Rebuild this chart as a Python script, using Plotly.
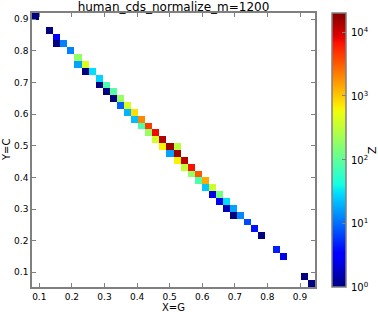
import numpy as np
import plotly.graph_objects as go

# ---- data (2D histogram, 40 x 40 bins) ----
n_bins = 40
x_min, x_max = 0.0776, 0.946
y_min, y_max = 0.0535, 0.920

# occupied cells: column index (G bin, left->right), row index (C bin, top->bottom), count
cell_col = [0, 2, 3, 3, 4, 5, 6, 6, 7, 7, 8, 9, 9, 10, 10, 11, 11, 12, 12, 13, 13,
            14, 14, 15, 15, 16, 16, 17, 17, 18, 18, 19, 20, 19, 20, 20, 21, 21, 22, 22,
            23, 23, 24, 24, 25, 25, 26, 26, 27, 27, 28, 28, 29, 30, 31, 32, 34, 35, 38, 39]
cell_row = [0, 2, 3, 4, 4, 5, 6, 7, 7, 8, 8, 9, 10, 10, 11, 11, 12, 12, 13, 13, 14,
            14, 15, 15, 16, 16, 17, 17, 18, 18, 19, 19, 19, 20, 20, 21, 21, 22, 22, 23,
            23, 24, 24, 25, 25, 26, 26, 27, 27, 28, 28, 29, 29, 30, 31, 32, 34, 35, 38, 39]
cell_count = [1, 1, 3, 1, 12, 12, 190, 17, 450, 1, 30, 27, 1, 80, 1, 90, 1, 200, 9, 430, 20,
              800, 22, 2000, 80, 4500, 190, 7500, 400, 13000, 650, 15000, 300, 17, 15000, 650,
              12000, 330, 7000, 190, 3200, 80, 1400, 24, 380, 2.5, 130, 2.7, 30, 1.6, 17, 1,
              13, 7, 4, 1, 4.5, 2.5, 1, 1]

z_log_min, z_log_max = 0.0, 4.3
cbar_tickvals = [0, 1, 2, 3, 4]
cbar_ticktext = ["10<sup>0</sup>", "10<sup>1</sup>", "10<sup>2</sup>", "10<sup>3</sup>", "10<sup>4</sup>"]

# ---- build grid ----
x_edges = np.linspace(x_min, x_max, n_bins + 1)
y_edges = np.linspace(y_min, y_max, n_bins + 1)
x_centers = 0.5 * (x_edges[:-1] + x_edges[1:])
y_centers = 0.5 * (y_edges[:-1] + y_edges[1:])
Z = np.full((n_bins, n_bins), np.nan)
for c, r, v in zip(cell_col, cell_row, cell_count):
    Z[n_bins - 1 - r, c] = np.log10(v)
Zl = [[None if np.isnan(v) else float(v) for v in row] for row in Z]

# matplotlib jet colorscale
t = np.linspace(0, 1, 65)
red = np.interp(t, [0, 0.35, 0.66, 0.89, 1], [0, 0, 1, 1, 0.5])
green = np.interp(t, [0, 0.125, 0.375, 0.64, 0.91, 1], [0, 0, 1, 1, 0, 0])
blue = np.interp(t, [0, 0.11, 0.34, 0.65, 1], [0.5, 1, 1, 0, 0])
jet = [[float(tt), f"rgb({int(round(r*255))},{int(round(g*255))},{int(round(b*255))})"]
       for tt, r, g, b in zip(t, red, green, blue)]

ML, MR, MT, MB = 32, 63, 13, 25
PLOT_W = 378 - ML - MR
PLOT_H = 312 - MT - MB

fig = go.Figure(go.Heatmap(
    x=x_centers, y=y_centers, z=Zl,
    zmin=z_log_min, zmax=z_log_max,
    colorscale=jet, hoverongaps=False,
    colorbar=dict(
        x=(332 - ML) / PLOT_W, xanchor="left", xref="paper", xpad=0, ypad=0,
        y=0.5, yanchor="middle", len=1.0, lenmode="fraction",
        thickness=14, outlinecolor="#808080", outlinewidth=1.5,
        tickvals=cbar_tickvals, showticklabels=False,
        ticks="inside", ticklen=4, tickcolor="#808080",
    ),
))

axis_common = dict(
    showline=True, mirror="allticks", linecolor="#808080", linewidth=1.5,
    ticks="inside", ticklen=4, tickcolor="#808080", tickwidth=1,
    showgrid=False, zeroline=False, dtick=0.1, tickformat=".1f",
    tickfont=dict(family="DejaVu Sans", size=9, color="black"),
)

fig.update_xaxes(range=[x_min, x_max], tick0=0.1, **axis_common)
fig.update_yaxes(range=[y_min, y_max], tick0=0.1, **axis_common)

font = dict(family="DejaVu Sans", size=10, color="black")
annotations = [
    dict(text="X=G", xref="paper", yref="paper", x=0.5, y=-13 / PLOT_H,
         xanchor="center", yanchor="top", showarrow=False, font=font),
    dict(text="Y=C", xref="paper", yref="paper", x=-26 / PLOT_W, y=0.5,
         xanchor="center", yanchor="middle", showarrow=False, textangle=-90, font=font),
    dict(text="Z", xref="paper", yref="paper", x=(372 - ML) / PLOT_W, y=0.5,
         xanchor="center", yanchor="middle", showarrow=False, textangle=-90,
         font=dict(family="DejaVu Sans", size=11, color="black")),
]
for tv, tt in zip(cbar_tickvals, cbar_ticktext):
    annotations.append(dict(
        text=tt, xref="paper", yref="paper",
        x=(350 - ML) / PLOT_W, y=(tv - z_log_min) / (z_log_max - z_log_min),
        xanchor="left", yanchor="middle", showarrow=False, font=font, borderpad=0))

fig.update_layout(
    width=378, height=312,
    margin=dict(l=ML, r=MR, t=MT, b=MB, autoexpand=False),
    paper_bgcolor="white", plot_bgcolor="white",
    title=dict(text="human_cds_normalize_m=1200", x=0.5, xref="paper", xanchor="center",
               y=1 - 6.5 / 312, yref="container", yanchor="middle",
               font=dict(family="DejaVu Sans", size=12, color="black")),
    annotations=annotations,
)

fig.write_html("out.html", config={"displayModeBar": False},
               post_script="document.body.style.margin='0';document.body.style.padding='0';")
